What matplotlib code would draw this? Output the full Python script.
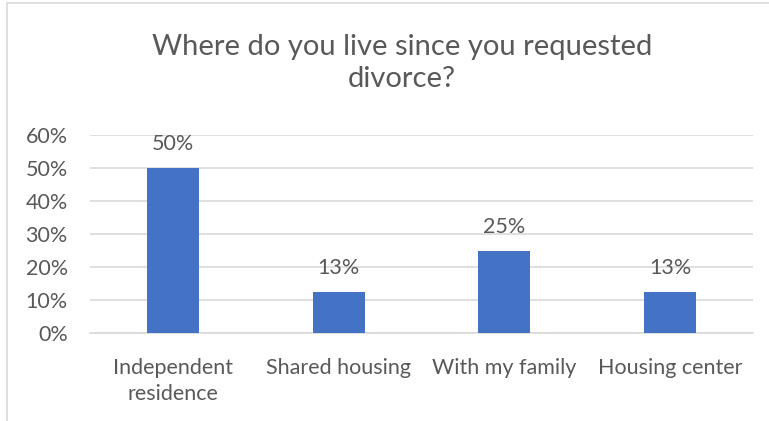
import matplotlib.pyplot as plt
from matplotlib.patches import Rectangle
from matplotlib.ticker import PercentFormatter

categorias = ["Independent\nresidence", "Shared housing", "With my family", "Housing center"]
valores = [0.50, 0.125, 0.25, 0.125]
etiquetas = ["50%", "13%", "25%", "13%"]

plt.rcParams['font.family'] = ['Lato', 'DejaVu Sans']
gris_texto = '#595959'
gris_linea = '#D9D9D9'
azul = '#4472C4'

fig = plt.figure(figsize=(7.69, 4.21), dpi=100)
ax = fig.add_axes([90 / 769, 1 - 333 / 421, 663 / 769, 198 / 421])

# marco del grafico (recortado a la derecha y abajo)
fig.patches.append(Rectangle((7 / 769, -0.1), 1.2, 1 - 3 / 421 + 0.1,
                             transform=fig.transFigure, fill=False,
                             edgecolor=gris_linea, linewidth=1.2))

x = range(len(categorias))
barras = ax.bar(x, valores, width=0.315, color=azul, zorder=3)
for b, txt in zip(barras, etiquetas):
    ax.annotate(txt, (b.get_x() + b.get_width() / 2, b.get_height()),
                xytext=(0, 17), textcoords='offset points',
                ha='center', va='center', fontsize=15.5, color=gris_texto)

ax.set_xlim(-0.5, 3.5)
ax.set_ylim(0, 0.6)
ax.set_yticks([0, 0.1, 0.2, 0.3, 0.4, 0.5, 0.6])
ax.yaxis.set_major_formatter(PercentFormatter(1.0, decimals=0))
ax.set_xticks(list(x))
ax.set_xticklabels(categorias, linespacing=1.35)
ax.tick_params(axis='both', length=0, labelsize=15.5, colors=gris_texto)
ax.tick_params(axis='x', pad=18)
ax.tick_params(axis='y', pad=16)
ax.grid(axis='y', color=gris_linea, linewidth=1.2, zorder=0)
for lado in ['top', 'right', 'left']:
    ax.spines[lado].set_visible(False)
ax.spines['bottom'].set_color(gris_linea)
ax.spines['bottom'].set_linewidth(1.2)

fig.text(402 / 769, 1 - 63 / 421, "Where do you live since you requested\ndivorce?",
         ha='center', va='center', fontsize=21, color=gris_texto,
         linespacing=1.3)

fig.savefig("out.png", dpi=100)
